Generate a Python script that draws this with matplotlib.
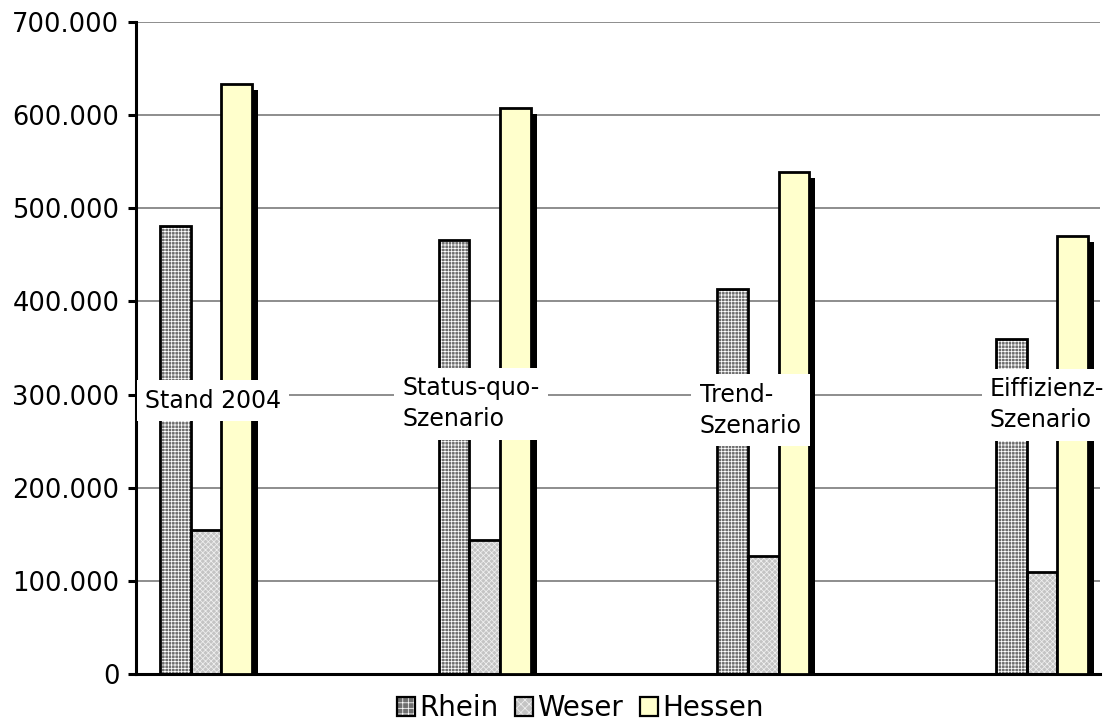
import matplotlib
matplotlib.use("Agg")
import matplotlib.pyplot as plt
import numpy as np
from matplotlib.patches import Patch
from matplotlib.legend_handler import HandlerTuple

# ---- data ----
categories = ["Stand 2004", "Status-quo-\nSzenario", "Trend-\nSzenario", "Eiffizienz-\nSzenario"]
series_names = ["Rhein", "Weser", "Hessen"]
rhein = [481000, 466000, 413000, 360000]
weser = [155000, 144000, 127000, 110000]
hessen = [633000, 608000, 539000, 470000]
yticks = [0, 100000, 200000, 300000, 400000, 500000, 600000, 700000]

plt.rcParams['font.family'] = ['DejaVu Sans']
plt.rcParams['hatch.linewidth'] = 0.55

W, H = 1109, 725
fig = plt.figure(figsize=(W / 100, H / 100), dpi=100)
ax = fig.add_axes([136 / W, 51 / H, (1100 - 136) / W, (674 - 22) / H])

x = np.arange(len(categories))
bw = 0.110
px = 1 / 278.7  # one pixel in data-x units (approx)

ax.set_ylim(0, 700000)
ax.set_xlim(-0.251, 3.208)
ax.set_yticks(yticks)
ax.set_yticklabels([f"{v:,.0f}".replace(",", ".") for v in yticks])
ax.yaxis.grid(True, color="#7a7a7a", linewidth=1.2, zorder=0)
ax.set_axisbelow(True)
ax.set_xticks([])

RHEIN_FACE = "#6e6e6e"
WESER_FACE = "#c4c4c4"
HESSEN_FACE = "#FFFFCC"

edge_lw = 2.0
# Rhein
ax.bar(x - bw, rhein, bw, color=RHEIN_FACE, edgecolor="white", hatch="+++++",
       linewidth=0, zorder=2)
ax.bar(x - bw, rhein, bw, fill=False, edgecolor="black", linewidth=edge_lw, zorder=3)
# Weser
ax.bar(x, weser, bw, color=WESER_FACE, edgecolor="#f0f0f0", hatch="xxxxxx",
       linewidth=0, zorder=2)
ax.bar(x, weser, bw, fill=False, edgecolor="black", linewidth=edge_lw, zorder=3)
# Hessen shadow
sh_y = 700000 / 652 * 6
ax.bar(x + bw + 6 * px, [h - sh_y for h in hessen], bw, color="black",
       linewidth=0, zorder=1.9)
ax.bar(x + bw, hessen, bw, color=HESSEN_FACE, edgecolor="black", linewidth=edge_lw, zorder=3)

for s in ["top", "right"]:
    ax.spines[s].set_visible(False)
ax.spines["left"].set_linewidth(2.2)
ax.spines["bottom"].set_linewidth(2.2)
ax.tick_params(axis="y", direction="out", length=6, width=2.2, pad=6,
               labelsize=18.5, colors="black")

# category labels with white boxes
label_dx = [-0.219, -0.294, -0.229, -0.187]
label_y = [293500, 290300, 283000, 289200]
for i, (cat, dx, ly) in enumerate(zip(categories, label_dx, label_y)):
    ax.text(x[i] + dx, ly, cat, ha="left", va="center", fontsize=17,
            linespacing=1.4, multialignment="left",
            bbox=dict(facecolor="white", edgecolor="none", pad=6),
            zorder=5, clip_on=False)

# legend
h_r = (Patch(facecolor=RHEIN_FACE, edgecolor="white", hatch="+++", linewidth=0),
       Patch(fill=False, edgecolor="black", linewidth=1.6))
h_w = (Patch(facecolor=WESER_FACE, edgecolor="#f0f0f0", hatch="xxxx", linewidth=0),
       Patch(fill=False, edgecolor="black", linewidth=1.6))
h_h = Patch(facecolor=HESSEN_FACE, edgecolor="black", linewidth=1.6)
fig.legend([h_r, h_w, h_h], series_names,
           handler_map={tuple: HandlerTuple(ndivide=1, pad=0)},
           loc="center", bbox_to_anchor=(580 / W, 1 - 708 / H), ncol=3, frameon=False,
           fontsize=20, handlelength=0.65, handleheight=0.65, handletextpad=0.15,
           columnspacing=0.6, borderaxespad=0, borderpad=0)

fig.savefig("out.png", dpi=100)
